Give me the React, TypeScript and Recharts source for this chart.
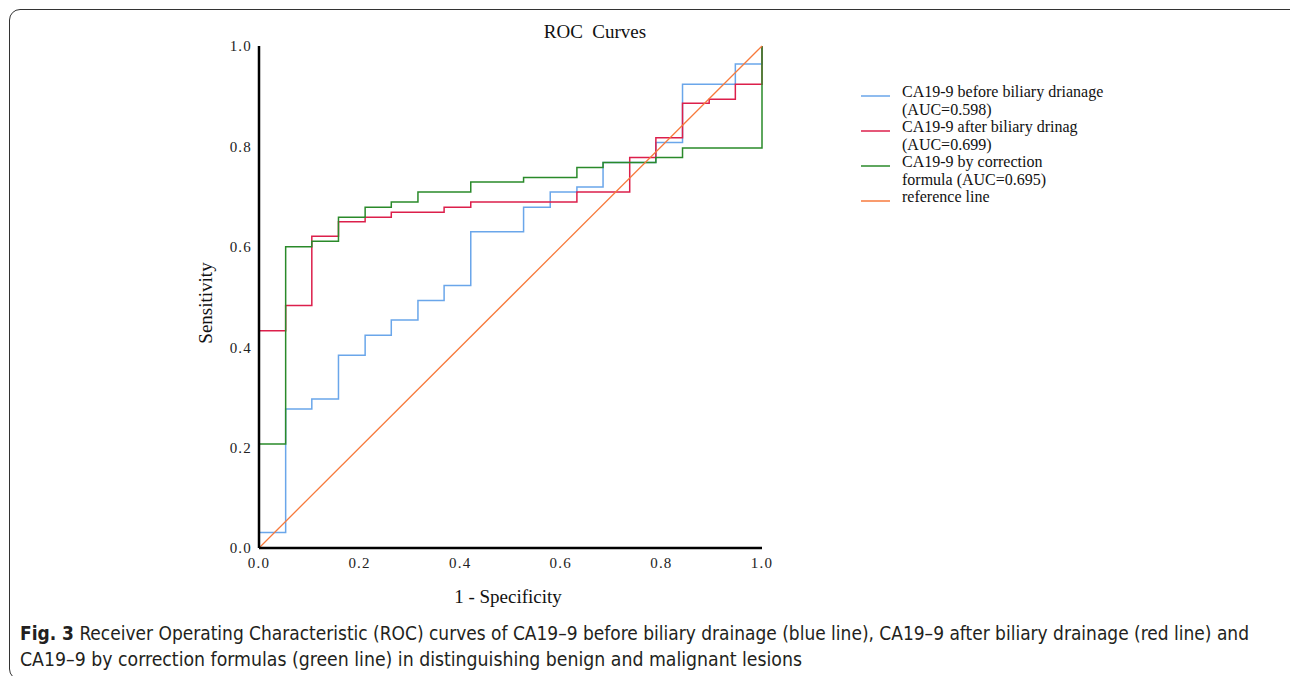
import React from "react";
import { Legend, Line, LineChart, XAxis, YAxis } from "recharts";

// false positive rate at each step (19 benign cases)
const fprSteps = [0, 0.053, 0.105, 0.158, 0.211, 0.263, 0.316, 0.368, 0.421, 0.474, 0.526, 0.579, 0.632, 0.684, 0.737, 0.789, 0.842, 0.895, 0.947, 1.0];

// sensitivity reached at each step
const beforeDrainage = [0.031, 0.277, 0.297, 0.384, 0.424, 0.454, 0.493, 0.523, 0.63, 0.63, 0.679, 0.709, 0.719, 0.768, 0.768, 0.808, 0.924, 0.924, 0.964, 1.0];
const afterDrainage = [0.433, 0.483, 0.621, 0.65, 0.659, 0.669, 0.669, 0.679, 0.689, 0.689, 0.689, 0.689, 0.709, 0.709, 0.778, 0.817, 0.886, 0.894, 0.924, 1.0];
const correctionFormula = [0.207, 0.6, 0.611, 0.659, 0.679, 0.689, 0.709, 0.709, 0.729, 0.729, 0.738, 0.738, 0.758, 0.768, 0.768, 0.778, 0.797, 0.797, 0.797, 1.0];
const referenceLine = [0, 1];

const axisTicks = [0, 0.2, 0.4, 0.6, 0.8, 1.0];

const seriesNames = [
	"CA19-9 before biliary drianage\n(AUC=0.598)",
	"CA19-9 after biliary drinag\n(AUC=0.699)",
	"CA19-9 by correction\nformula (AUC=0.695)",
	"reference line",
];
const seriesColors = ["#6aa6ea", "#dc1f4b", "#2a8a2a", "#f77a3c"];

const captionLines = [
	"Receiver Operating Characteristic (ROC) curves of CA19\u20139 before biliary drainage (blue line), CA19\u20139 after biliary drainage (red line) and",
	"CA19\u20139 by correction formulas (green line) in distinguishing benign and malignant lesions",
];

const toPoints = (tpr: number[]) => [{ fpr: 0, tpr: 0 }, ...fprSteps.map((f, i) => ({ fpr: f, tpr: tpr[i] }))];

const serif = "'Liberation Serif', 'Times New Roman', serif";
const caption = "'Liberation Sans Narrow', 'DejaVu Sans Condensed', 'DejaVu Sans', sans-serif";

const LegendBox = () => (
	<div style={{ fontFamily: serif, fontSize: 16, lineHeight: "17.5px", color: "#111" }}>
		{seriesNames.map((name, i) => (
			<div key={name} style={{ display: "flex", alignItems: "flex-start" }}>
				<svg width={29} height={16} style={{ marginRight: 12, flexShrink: 0 }}>
					<line x1={0} x2={29} y1={13} y2={13} stroke={seriesColors[i]} strokeWidth={1.5} />
				</svg>
				<div style={{ whiteSpace: "pre-line" }}>{name}</div>
			</div>
		))}
	</div>
);

export default function App() {
	const fmt = (v: number) => v.toFixed(1);
	return (
		<div style={{ position: "fixed", left: 0, top: 0, width: 1290, height: 676, overflow: "hidden", background: "#fff" }}>
			<div style={{ position: "absolute", left: 9, top: 9, width: 1320, height: 669, border: "1.3px solid #333", borderRadius: 11 }} />
			<div style={{ position: "absolute", left: 495, width: 200, top: 21, textAlign: "center", fontFamily: serif, fontSize: 19, whiteSpace: "pre", color: "#111" }}>
				{"ROC  Curves"}
			</div>
			<div style={{ position: "absolute", left: 408, width: 200, top: 586, textAlign: "center", fontFamily: serif, fontSize: 19, color: "#111" }}>
				1 - Specificity
			</div>
			<div style={{ position: "absolute", left: 106, width: 200, top: 292, textAlign: "center", fontFamily: serif, fontSize: 19, color: "#111", transform: "rotate(-90deg)" }}>
				Sensitivity
			</div>
			<div style={{ position: "absolute", left: 0, top: 0 }}>
				<LineChart width={1200} height={620} margin={{ top: 46, right: 438, bottom: 0, left: 0 }}>
					<XAxis
						type="number"
						dataKey="fpr"
						domain={[0, 1]}
						ticks={axisTicks}
						tickFormatter={fmt}
						height={72}
						tickLine={false}
						tickSize={0}
						tickMargin={9}
						axisLine={{ stroke: "#000", strokeWidth: 2.5 }}
						tick={{ fill: "#222", fontSize: 15, fontFamily: serif, letterSpacing: 1.2 }}
						allowDuplicatedCategory={false}
					/>
					<YAxis
						type="number"
						dataKey="tpr"
						domain={[0, 1]}
						ticks={axisTicks}
						tickFormatter={fmt}
						width={259}
						tickLine={false}
						tickSize={0}
						tickMargin={7}
						axisLine={{ stroke: "#000", strokeWidth: 2.5 }}
						tick={{ fill: "#222", fontSize: 15, fontFamily: serif, letterSpacing: 1.2 }}
					/>
					<Line data={toPoints(beforeDrainage)} dataKey="tpr" name={seriesNames[0]} type="stepAfter" stroke={seriesColors[0]} strokeWidth={1.5} dot={false} isAnimationActive={false} />
					<Line data={toPoints(afterDrainage)} dataKey="tpr" name={seriesNames[1]} type="stepAfter" stroke={seriesColors[1]} strokeWidth={1.5} dot={false} isAnimationActive={false} />
					<Line data={toPoints(correctionFormula)} dataKey="tpr" name={seriesNames[2]} type="stepAfter" stroke={seriesColors[2]} strokeWidth={1.5} dot={false} isAnimationActive={false} />
					<Line data={referenceLine.map((v) => ({ fpr: v, tpr: v }))} dataKey="tpr" name={seriesNames[3]} type="linear" stroke={seriesColors[3]} strokeWidth={1.3} dot={false} isAnimationActive={false} />
					<Legend
						layout="horizontal"
						verticalAlign="middle"
						align="center"
						content={<LegendBox />}
						wrapperStyle={{ left: 861, top: 83, width: 330 }}
					/>
				</LineChart>
			</div>
			<svg style={{ position: "absolute", left: 0, top: 612 }} width={1290} height={64}>
				<text x={20} y={28} fontFamily={caption} fontSize={19.5} fill="#231f20" textLength={1229} lengthAdjust="spacingAndGlyphs">
					<tspan fontWeight="bold">Fig. 3</tspan> {captionLines[0]}
				</text>
				<text x={20} y={54} fontFamily={caption} fontSize={19.5} fill="#231f20" textLength={782} lengthAdjust="spacingAndGlyphs">
					{captionLines[1]}
				</text>
			</svg>
		</div>
	);
}
